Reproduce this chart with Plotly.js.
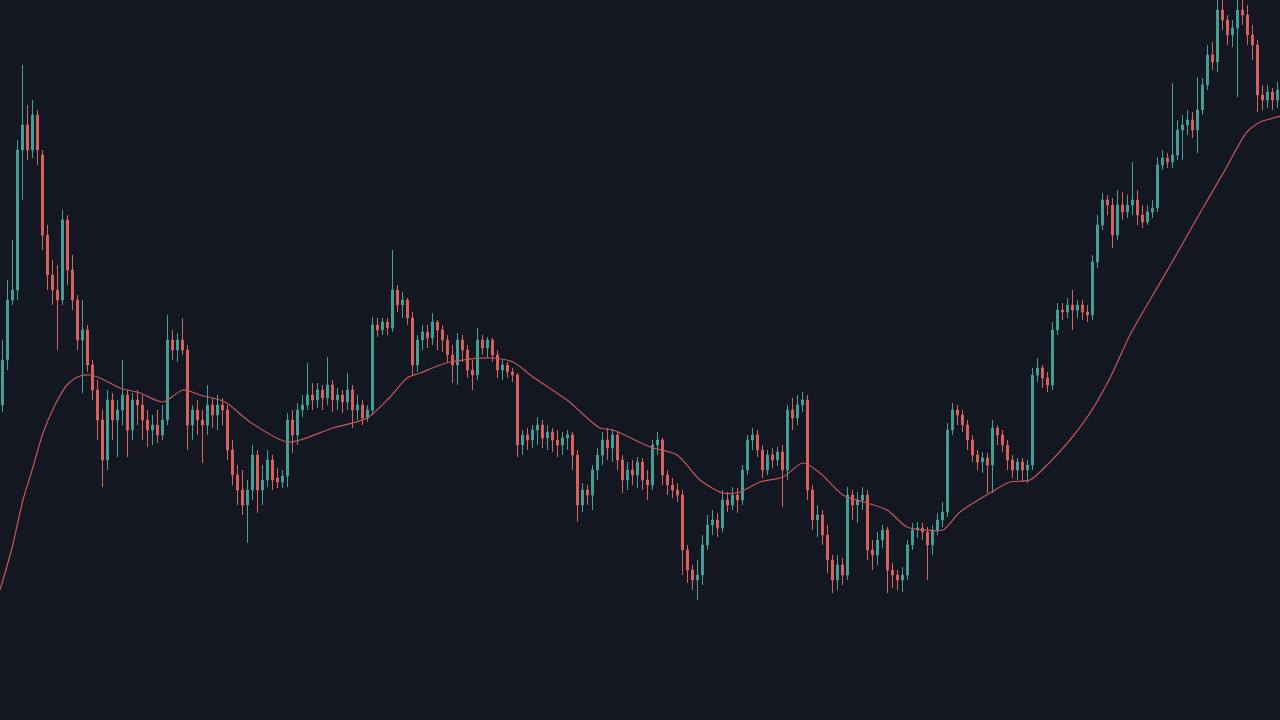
<!DOCTYPE html>
<html>
<head>
<meta charset="utf-8">
<script src="https://cdn.plot.ly/plotly-3.0.1.min.js"></script>
<style>
html,body{margin:0;padding:0;background:#131722;overflow:hidden;}
#chart{width:1280px;height:720px;}
</style>
</head>
<body>
<div id="chart"></div>
<script>
const openP = [
315,360,420,430,570,595,570,605,565,485,
445,430,420,500,450,420,380,390,355,330,
300,260,320,300,310,325,290,320,315,300,
290,295,285,300,380,370,380,370,295,310,
300,295,315,305,315,310,270,245,230,215,
230,265,230,240,260,242,238,244,300,285,
310,315,325,320,330,322,335,320,325,318,
330,310,315,302,310,395,390,398,392,430,
415,420,402,355,380,388,382,398,390,380,
365,355,380,370,350,345,380,372,380,365,
350,355,348,345,275,285,280,290,295,282,
288,280,275,282,285,265,215,230,225,250,
265,280,272,285,260,240,250,245,258,240,
235,275,280,245,235,230,225,170,150,140,
145,175,195,200,192,220,215,225,220,250,
280,285,270,250,265,260,268,250,310,302,
315,320,230,200,205,185,160,140,155,145,
225,215,220,225,170,165,180,190,150,145,
140,145,175,190,192,188,175,190,200,208,
290,310,305,295,280,265,258,262,255,292,
285,275,260,250,258,250,255,345,352,342,
335,390,410,408,415,410,415,408,405,458,
495,520,515,485,515,508,515,520,505,498,
508,512,555,562,558,565,590,595,600,590,
610,635,665,658,710,700,685,692,710,705,
685,675,625,620,628,620
];
const highP = [
380,440,480,580,655,615,620,610,570,495,
460,455,510,505,465,425,420,395,360,340,
310,330,327,320,360,330,327,330,325,310,
305,310,315,405,390,387,402,375,315,320,
310,335,322,325,322,315,280,255,250,240,
275,270,255,270,265,252,250,307,310,317,
325,357,337,337,335,363,340,332,330,347,
335,325,320,315,403,402,402,402,470,435,
428,422,408,385,395,395,407,400,395,385,
375,387,385,375,360,392,385,383,382,370,
360,358,352,347,290,292,295,303,300,295,
292,290,288,290,288,270,237,235,255,272,
288,292,290,288,265,258,260,263,262,250,
280,288,282,250,242,237,230,175,155,160,
185,205,210,207,230,228,233,232,255,285,
292,290,275,270,272,273,275,315,322,325,
328,325,235,215,210,195,165,165,162,233,
230,228,233,230,180,188,195,193,157,150,
153,180,197,198,197,193,195,207,218,297,
317,315,310,300,285,270,268,267,300,295,
290,280,265,262,262,260,352,362,355,348,
398,417,417,422,430,420,420,415,465,505,
527,525,522,530,528,525,558,530,515,515,
520,563,570,567,637,600,605,610,608,643,
642,675,678,750,740,705,700,730,745,715,
695,680,635,635,632,638
];
const lowP = [
308,350,415,420,520,560,562,555,470,430,
415,370,415,435,410,370,327,348,320,280,
233,250,280,263,295,263,280,295,280,273,
275,277,280,295,360,358,365,270,280,285,
257,285,292,290,295,260,235,215,205,177,
220,207,215,233,230,232,232,233,267,275,
303,310,310,312,310,315,308,310,307,310,
292,300,295,298,305,383,385,385,388,408,
402,395,345,348,370,372,375,370,368,358,
337,335,358,342,330,340,365,363,358,342,
340,342,338,263,265,270,272,275,272,270,
268,263,265,270,250,198,208,215,210,240,
255,260,258,250,227,230,235,232,230,220,
230,265,235,225,222,218,145,137,130,120,
135,170,185,183,188,208,210,207,215,245,
270,263,242,245,252,254,213,240,290,295,
308,220,190,183,175,147,127,130,135,140,
200,197,210,160,150,155,172,127,132,130,
128,140,170,182,180,140,165,185,193,203,
285,295,288,270,258,250,247,227,227,275,
268,250,242,240,238,237,250,338,332,328,
330,385,400,402,390,402,400,398,400,452,
490,505,472,480,500,502,505,495,492,495,
502,508,550,552,552,560,560,585,582,567,
605,630,650,648,690,675,673,623,695,675,
660,608,610,612,610,612
];
const closeP = [
360,420,430,570,595,570,605,570,485,445,
430,420,500,450,420,380,390,355,330,300,
260,320,300,310,325,290,320,315,300,290,
295,285,300,380,370,380,370,295,310,300,
295,315,305,315,310,270,245,230,215,230,
265,230,240,260,240,238,244,300,285,310,
315,325,320,330,322,335,320,325,318,330,
310,315,302,310,395,390,398,392,430,415,
420,402,355,380,388,382,398,390,380,365,
355,380,370,350,345,380,372,380,365,350,
355,348,345,275,285,280,290,295,282,288,
280,275,282,285,265,215,230,225,250,265,
280,272,285,260,240,250,245,258,240,235,
275,280,245,235,230,225,170,150,140,145,
175,195,200,192,220,215,225,220,250,280,
285,270,250,265,260,268,250,310,302,315,
320,230,200,205,185,160,140,155,145,225,
215,220,225,170,165,180,190,150,145,140,
145,175,190,192,188,175,190,200,208,290,
310,305,295,280,265,258,262,255,292,285,
275,260,250,258,250,255,345,352,342,335,
390,410,408,415,410,415,408,405,458,495,
520,515,485,515,508,515,520,505,498,508,
512,555,562,558,565,590,595,600,590,610,
635,665,658,710,700,685,692,710,705,685,
675,625,620,628,620,630
];
const maIdx = [-0.5,1.9,4.1,6.1,8.1,10.5,12.9,15.5,17.5,19.5,23.5,27.5,32.1,36.1,39.5,44.5,49.5,56.9,59.5,66.1,72.9,77.5,80.9,83.5,89.5,97.5,102.1,106.1,112.9,119.5,122.1,129.5,134.9,139.5,144.1,147.5,151.5,156.1,160.1,163.5,168.1,172.9,176.9,180.9,184.9,188.1,191.5,197.5,201.5,205.5,209.5,213.5,217.5,221.5,225.5,229.5,234.5,239.5,244.5,248.9,251.5,253.5,255.5];
const maVal = [130,172,220,253,287,315,335,344,345,342,332,327,318,330,325,318,298,278,280,292,302,323,342,347,358,362,358,343,320,292,290,273,265,240,227,228,238,243,257,247,225,217,210,193,190,190,208,227,238,240,258,280,307,342,385,420,463,507,550,588,598,601,604];

const idx = openP.map((_, i) => i);

const candles = {
  type: 'candlestick',
  x: idx, open: openP, high: highP, low: lowP, close: closeP,
  increasing: {line: {color: '#46a096', width: 1}, fillcolor: '#46a096'},
  decreasing: {line: {color: '#d9635f', width: 1}, fillcolor: '#d9635f'},
  whiskerwidth: 0,
  hoverinfo: 'none',
  showlegend: false
};
const ma = {
  type: 'scatter', mode: 'lines',
  x: maIdx, y: maVal,
  line: {color: '#c4585a', width: 1.2, shape: 'spline', smoothing: 0.8},
  hoverinfo: 'none', showlegend: false
};

const layout = {
  width: 1280, height: 720,
  margin: {l: 0, r: 0, t: 0, b: 0},
  paper_bgcolor: '#131722', plot_bgcolor: '#131722',
  boxgap: 0.45,
  xaxis: {range: [-0.5, 255.5], visible: false, showgrid: false, zeroline: false, rangeslider: {visible: false}, fixedrange: true},
  yaxis: {range: [0, 720], visible: false, showgrid: false, zeroline: false, fixedrange: true},
  showlegend: false
};

Plotly.newPlot('chart', [candles, ma], layout, {displayModeBar: false, staticPlot: true});
</script>
</body>
</html>
